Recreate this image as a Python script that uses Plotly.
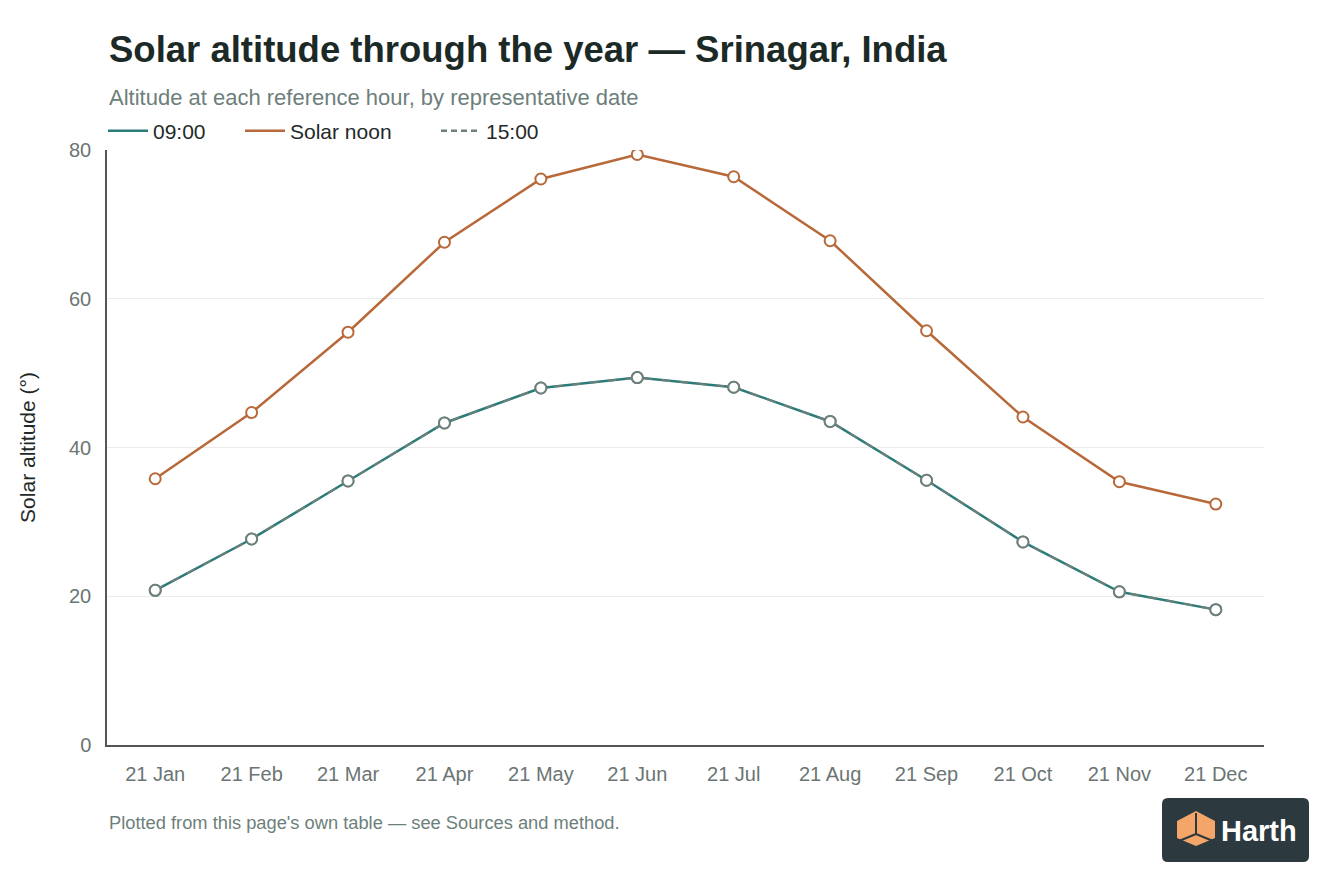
import plotly.graph_objects as go

dates = ["21 Jan", "21 Feb", "21 Mar", "21 Apr", "21 May", "21 Jun",
         "21 Jul", "21 Aug", "21 Sep", "21 Oct", "21 Nov", "21 Dec"]
alt_0900 = [20.8, 27.7, 35.5, 43.3, 48.0, 49.4, 48.1, 43.5, 35.6, 27.3, 20.6, 18.2]
alt_noon = [35.8, 44.7, 55.5, 67.6, 76.1, 79.4, 76.4, 67.8, 55.7, 44.1, 35.4, 32.4]
alt_1500 = [20.8, 27.7, 35.5, 43.3, 48.0, 49.4, 48.1, 43.5, 35.6, 27.3, 20.6, 18.2]

TEAL = "#2b7c78"
ORANGE = "#b8693a"
GREY = "#6d7f7b"
FONT = "Liberation Sans, Arial, Helvetica, sans-serif"

# page has an 8px body margin, so the figure is 8px smaller than the window
W, H = 1336, 888
L, T, R, B = 99, 142, 80, 151
PW = W - L - R
PH = H - T - B


def px(x):  # screen x -> paper
    return (x - 8 - L) / PW


def py(y):  # screen y -> paper
    return (H - B - (y - 8)) / PH


fig = go.Figure()


def marker(col):
    return dict(size=11, color="white", line=dict(color=col, width=2))


fig.add_trace(go.Scatter(x=dates, y=alt_0900, mode="lines+markers", name="09:00",
                         line=dict(color=TEAL, width=2.5), marker=marker(GREY),
                         showlegend=False))
fig.add_trace(go.Scatter(x=dates, y=alt_noon, mode="lines+markers", name="Solar noon",
                         line=dict(color=ORANGE, width=2.5), marker=marker(ORANGE),
                         showlegend=False))
fig.add_trace(go.Scatter(x=dates, y=alt_1500, mode="lines+markers", name="15:00",
                         line=dict(color=GREY, width=2, dash="dash"), marker=marker(GREY),
                         showlegend=False))

# legend entries (lines only), each in its own legend so they can be spaced like the original
legend_items = [("09:00", TEAL, "solid", "legend", 108),
                ("Solar noon", ORANGE, "solid", "legend2", 245),
                ("15:00", GREY, "6px,4px", "legend3", 441)]
legend_layout = {}
for name, col, dash, lg, x0 in legend_items:
    fig.add_trace(go.Scatter(x=[None], y=[None], mode="lines", name=name, legend=lg,
                             line=dict(color=col, width=2.5, dash=dash)))
    legend_layout[lg] = dict(orientation="h", x=px(x0 - 5), xanchor="left",
                             y=py(131), yanchor="middle",
                             font=dict(size=21, color="#1f2a28"), itemwidth=40,
                             bgcolor="rgba(0,0,0,0)")

fig.update_layout(
    width=W, height=H,
    margin=dict(l=L, r=R, t=T, b=B),
    paper_bgcolor="white", plot_bgcolor="white",
    font=dict(family=FONT, color="#6b7573", size=20),
    showlegend=True,
    annotations=[
        dict(text="<b>Solar altitude through the year — Srinagar, India</b>",
             xref="paper", yref="paper", x=px(107), y=py(50), xanchor="left", yanchor="middle",
             showarrow=False, font=dict(size=36.5, color="#1c2a27")),
        dict(text="Altitude at each reference hour, by representative date",
             xref="paper", yref="paper", x=px(107), y=py(97), xanchor="left", yanchor="middle",
             showarrow=False, font=dict(size=22, color="#6e7f7b")),
        dict(text="Plotted from this page's own table — see Sources and method.",
             xref="paper", yref="paper", x=px(107), y=py(822), xanchor="left", yanchor="middle",
             showarrow=False, font=dict(size=18.3, color="#6e7f7b")),
        dict(text="<b>Harth</b>", xref="paper", yref="paper",
             x=px(1259), y=py(831), xanchor="center", yanchor="middle",
             showarrow=False, font=dict(size=29, color="white")),
    ],
    **legend_layout,
)

fig.update_xaxes(type="category", range=[-0.5, 11.5], showgrid=False,
                 showline=True, linecolor="#555", linewidth=1.5,
                 ticks="", ticklabelstandoff=10, tickfont=dict(size=20, color="#6b7573"))
fig.update_yaxes(range=[0, 80], dtick=20, showgrid=True, gridcolor="#ebebeb", gridwidth=1,
                 zeroline=False, showline=True, linecolor="#555", linewidth=1.5,
                 ticks="", ticklabelstandoff=10, tickfont=dict(size=20, color="#6b7573"),
                 title=dict(text="Solar altitude (°)", standoff=28,
                            font=dict(size=21, color="#1f2a28")))

# logo badge
fig.add_shape(type="path", xref="paper", yref="paper",
              path=(f"M {px(1168)} {py(798)} L {px(1303)} {py(798)} "
                    f"Q {px(1309)} {py(798)} {px(1309)} {py(804)} L {px(1309)} {py(856)} "
                    f"Q {px(1309)} {py(862)} {px(1303)} {py(862)} L {px(1168)} {py(862)} "
                    f"Q {px(1162)} {py(862)} {px(1162)} {py(856)} L {px(1162)} {py(804)} "
                    f"Q {px(1162)} {py(798)} {px(1168)} {py(798)} Z"),
              fillcolor="#2c393e", line=dict(width=0), layer="above")
fig.add_shape(type="path", xref="paper", yref="paper",
              path=(f"M {px(1196)} {py(811)} L {px(1215)} {py(821)} L {px(1215)} {py(838)} "
                    f"L {px(1196)} {py(846)} L {px(1177)} {py(838)} L {px(1177)} {py(821)} Z"),
              fillcolor="#f4a66a", line=dict(width=0), layer="above")
fig.add_shape(type="path", xref="paper", yref="paper",
              path=(f"M {px(1196)} {py(813)} L {px(1196)} {py(834)} L {px(1179)} {py(841)} "
                    f"M {px(1196)} {py(834)} L {px(1213)} {py(841)}"),
              line=dict(color="#2c393e", width=2), layer="above")

fig.write_html("out.html")
